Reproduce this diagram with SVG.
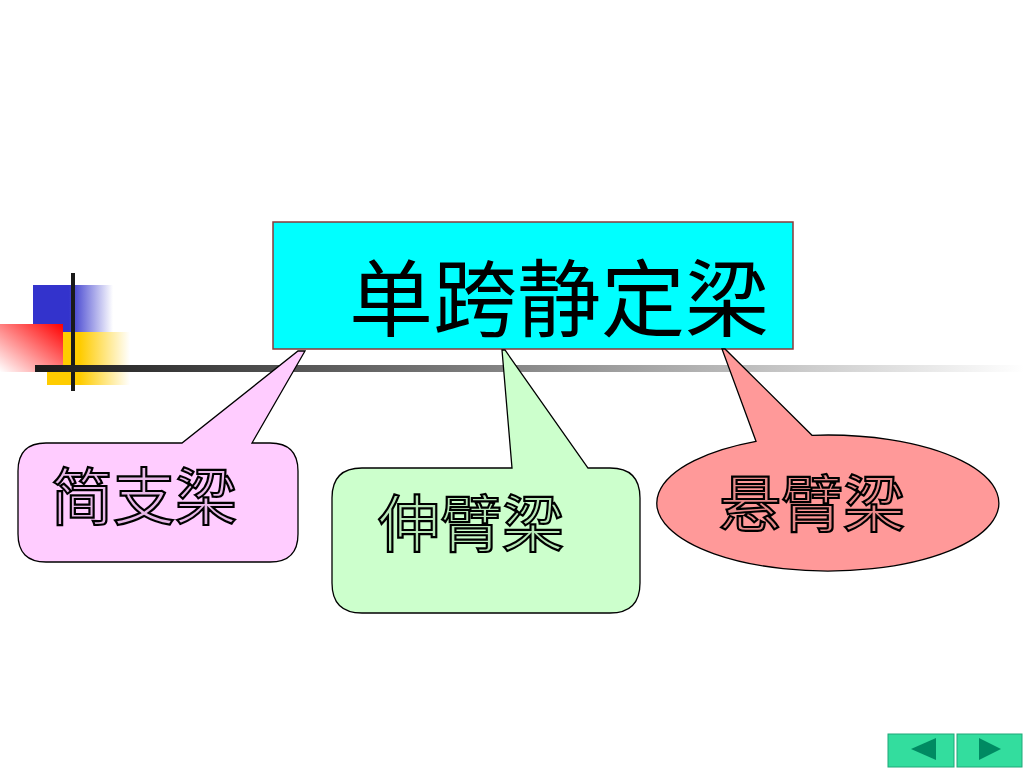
<svg xmlns="http://www.w3.org/2000/svg" width="1024" height="768" viewBox="0 0 1024 768">
<defs>
<linearGradient id="gBlue" x1="0" y1="0" x2="1" y2="0">
<stop offset="0.45" stop-color="#3333CC"/><stop offset="1" stop-color="#ffffff"/>
</linearGradient>
<linearGradient id="gYellow" x1="0" y1="0" x2="1" y2="0">
<stop offset="0.4" stop-color="#FFCC00"/><stop offset="1" stop-color="#ffffff"/>
</linearGradient>
<linearGradient id="gRed" x1="1" y1="0" x2="0" y2="1">
<stop offset="0" stop-color="#FF0000"/><stop offset="1" stop-color="#ffffff"/>
</linearGradient>
<linearGradient id="gLine" x1="0" y1="0" x2="1" y2="0">
<stop offset="0" stop-color="#1a1a1a"/><stop offset="0.5" stop-color="#8a8a8a"/><stop offset="1" stop-color="#ffffff"/>
</linearGradient>
<style>
.bub{stroke:#000;stroke-width:1.3}
.lbl{font-family:"Noto Sans CJK SC","Noto Sans CJK TC",sans-serif;font-size:62px;stroke:#000;stroke-width:2.2}
.title{font-family:"Noto Sans CJK SC","Noto Sans CJK TC",sans-serif;font-size:84px;fill:#000}
.btn{fill:#33DD9E;stroke:#1fa878;stroke-width:1}
.tri{fill:#008A62}
</style>
</defs>
<rect width="1024" height="768" fill="#fff"/>
<g id="decor">
<rect x="33" y="285" width="80" height="47" fill="url(#gBlue)"/>
<rect x="47" y="332" width="83" height="53" fill="url(#gYellow)"/>
<rect x="0" y="324" width="63" height="48" fill="url(#gRed)"/>
<rect x="71" y="273" width="4" height="118" fill="#1a1a1a"/>
<rect x="35" y="365" width="989" height="7" fill="url(#gLine)"/>
</g>
<g id="connectors"></g>
<g id="title-node">
<rect x="273" y="222" width="520" height="127" fill="#00FFFF" stroke="#8B3A3A" stroke-width="1.5"/>
<text class="title" x="349" y="330">单跨静定梁</text>
</g>
<g id="node-simple">
<path class="bub" fill="#FFCCFF" d="M46,443 L182,443 L298,351 L305,351 L252,443 L270,443 Q298,443 298,471 L298,534 Q298,562 270,562 L46,562 Q18,562 18,534 L18,471 Q18,443 46,443 Z"/>
<text class="lbl" x="51" y="520" fill="#E8B8E8">简支梁</text>
</g>
<g id="node-overhang">
<path class="bub" fill="#CCFFCC" d="M362,468 L512,468 L502,350 L505,350 L588,468 L610,468 Q640,468 640,498 L640,583 Q640,613 610,613 L362,613 Q332,613 332,583 L332,498 Q332,468 362,468 Z"/>
<text class="lbl" x="378" y="547" fill="#B8E8B8">伸臂梁</text>
</g>
<g id="node-cantilever">
<path class="bub" fill="#FF9999" d="M756,441.3 L722,349 L725,349 L812,435.3 A171,68 0 1 1 756,441.3 Z"/>
<text class="lbl" x="719" y="527" fill="#E88A8A">悬臂梁</text>
</g>
<g id="nav">
<rect class="btn" x="888" y="734" width="66" height="33"/>
<rect class="btn" x="957" y="734" width="65" height="33"/>
<polygon class="tri" points="911,749 936,738 936,760"/>
<polygon class="tri" points="979,738 1001,749 979,760"/>
</g>
</svg>
